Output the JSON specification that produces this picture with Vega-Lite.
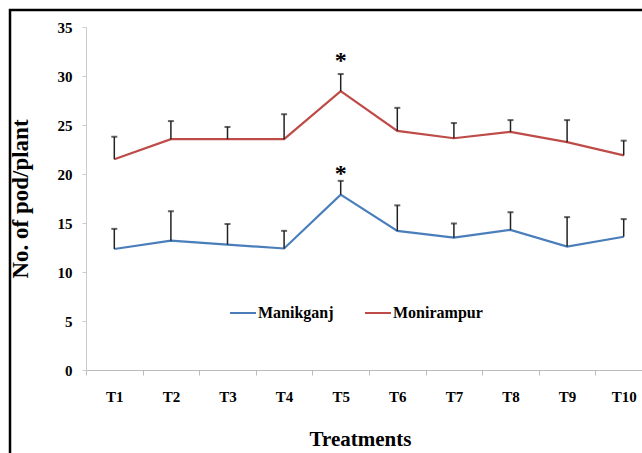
{
  "$schema": "https://vega.github.io/schema/vega-lite/v6.json",
  "autosize": {"type": "none"},
  "width": 632,
  "height": 443,
  "padding": {"left": 10, "top": 10, "right": 0, "bottom": 0},
  "background": "white",
  "config": {
    "font": "Liberation Serif",
    "view": {"stroke": "black", "strokeWidth": 2.5, "strokeDash": [632, 1075, 443]}
  },
  "datasets": {
    "pods": [
      {"t": "T1", "site": "Manikganj", "v": 12.35, "e": 14.4},
      {"t": "T2", "site": "Manikganj", "v": 13.2, "e": 16.2},
      {"t": "T3", "site": "Manikganj", "v": 12.8, "e": 14.9},
      {"t": "T4", "site": "Manikganj", "v": 12.4, "e": 14.2},
      {"t": "T5", "site": "Manikganj", "v": 17.9, "e": 19.3},
      {"t": "T6", "site": "Manikganj", "v": 14.2, "e": 16.8},
      {"t": "T7", "site": "Manikganj", "v": 13.5, "e": 14.95},
      {"t": "T8", "site": "Manikganj", "v": 14.3, "e": 16.1},
      {"t": "T9", "site": "Manikganj", "v": 12.6, "e": 15.6},
      {"t": "T10", "site": "Manikganj", "v": 13.6, "e": 15.4},
      {"t": "T1", "site": "Monirampur", "v": 21.5, "e": 23.8},
      {"t": "T2", "site": "Monirampur", "v": 23.55, "e": 25.4},
      {"t": "T3", "site": "Monirampur", "v": 23.55, "e": 24.8},
      {"t": "T4", "site": "Monirampur", "v": 23.55, "e": 26.1},
      {"t": "T5", "site": "Monirampur", "v": 28.45, "e": 30.2},
      {"t": "T6", "site": "Monirampur", "v": 24.4, "e": 26.75},
      {"t": "T7", "site": "Monirampur", "v": 23.65, "e": 25.2},
      {"t": "T8", "site": "Monirampur", "v": 24.3, "e": 25.5},
      {"t": "T9", "site": "Monirampur", "v": 23.25, "e": 25.5},
      {"t": "T10", "site": "Monirampur", "v": 21.9, "e": 23.4}
    ],
    "stars": [
      {"t": "T5", "y": 20.6, "s": "*"},
      {"t": "T5", "y": 32.1, "s": "*"}
    ]
  },
  "data": {"name": "pods"},
  "encoding": {
    "x": {
      "field": "t",
      "type": "nominal",
      "sort": ["T1", "T2", "T3", "T4", "T5", "T6", "T7", "T8", "T9", "T10"],
      "scale": {"type": "band", "range": [76, 642], "paddingInner": 0, "paddingOuter": 0},
      "axis": {
        "title": "Treatments",
        "titleFontSize": 21,
        "titleFontWeight": "bold",
        "titleColor": "black",
        "titlePadding": 24,
        "titleX": 350,
        "offset": -83,
        "labelAngle": 0,
        "labelFontSize": 15,
        "labelFontWeight": "bold",
        "labelColor": "black",
        "labelPadding": 14,
        "tickBand": "extent",
        "tickSize": 5,
        "tickColor": "#bbbbbb",
        "domainColor": "#bbbbbb",
        "grid": false
      }
    }
  },
  "layer": [
    {
      "mark": {"type": "line", "strokeWidth": 2.2},
      "encoding": {
        "y": {
          "field": "v",
          "type": "quantitative",
          "title": "No. of pod/plant",
          "scale": {"domain": [0, 35], "range": [360, 17], "nice": false},
          "axis": {
            "title": "No. of pod/plant",
            "titleFontSize": 23,
            "titleFontWeight": "bold",
            "titleColor": "black",
            "titlePadding": 25,
            "offset": -76,
            "values": [0, 5, 10, 15, 20, 25, 30, 35],
            "labelFontSize": 15,
            "labelFontWeight": "bold",
            "labelColor": "black",
            "labelPadding": 10,
            "tickSize": 4,
            "tickColor": "#cccccc",
            "domainColor": "#cccccc",
            "grid": false
          }
        },
        "color": {
          "field": "site",
          "type": "nominal",
          "scale": {"domain": ["Manikganj", "Monirampur"], "range": ["#4A7EBB", "#BE4B48"]},
          "legend": {
            "title": null,
            "orient": "none",
            "direction": "horizontal",
            "legendX": 219,
            "legendY": 289,
            "symbolType": "stroke",
            "symbolSize": 676,
            "symbolStrokeWidth": 2,
            "labelFontSize": 16,
            "labelFontWeight": "bold",
            "labelColor": "black",
            "labelOffset": 1,
            "columnPadding": 27
          }
        }
      }
    },
    {
      "mark": {"type": "rule", "color": "#222222", "strokeWidth": 1.5},
      "encoding": {
        "y": {"field": "v", "type": "quantitative", "title": "No. of pod/plant", "scale": {"domain": [0, 35], "range": [360, 17], "nice": false}},
        "y2": {"field": "e"},
        "detail": {"field": "site"}
      }
    },
    {
      "mark": {"type": "tick", "color": "#222222", "size": 6, "thickness": 2},
      "encoding": {
        "y": {"field": "e", "type": "quantitative", "title": "No. of pod/plant", "scale": {"domain": [0, 35], "range": [360, 17], "nice": false}},
        "detail": {"field": "site"}
      }
    },
    {
      "data": {"name": "stars"},
      "mark": {"type": "text", "fontSize": 24, "fontWeight": "bold", "baseline": "middle", "dy": 6, "color": "black"},
      "encoding": {
        "y": {"field": "y", "type": "quantitative", "title": "No. of pod/plant", "scale": {"domain": [0, 35], "range": [360, 17], "nice": false}},
        "text": {"field": "s"}
      }
    }
  ]
}
